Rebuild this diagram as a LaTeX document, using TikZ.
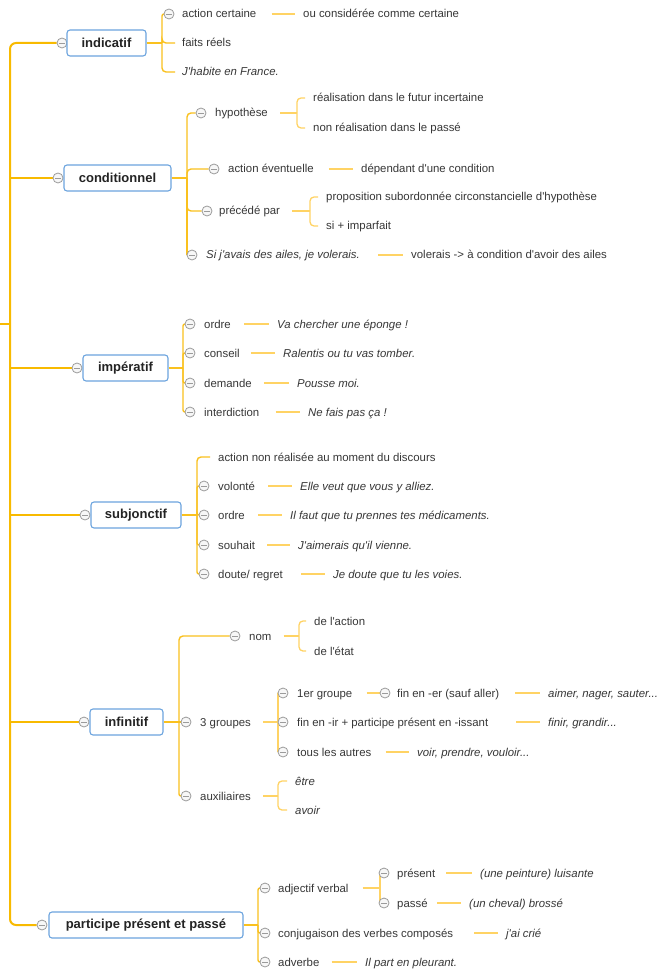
\documentclass[tikz,border=0pt]{standalone}
\usepackage{fontspec}
\newfontfamily\lsans{Liberation Sans}
\usetikzlibrary{calc}
\pgfdeclarelayer{bg}
\pgfsetlayers{bg,main}
\definecolor{spinec}{RGB}{248,186,0}
\definecolor{brc}{RGB}{250,193,30}
\definecolor{lc}{RGB}{255,211,100}
\definecolor{boxc}{RGB}{108,164,222}
\definecolor{txt}{RGB}{55,55,55}
\definecolor{btxt}{RGB}{35,35,35}
\definecolor{cgray}{RGB}{155,155,155}
\tikzset{
  spine/.style={draw=spinec, line width=2pt},
  br/.style={draw=brc, line width=1.4pt, rounded corners=4pt},
  lk/.style={draw=lc, line width=1.3pt, rounded corners=4pt},
  tight/.style={rounded corners=2pt},
  stub/.style={lk, shorten >=8pt, shorten <=#1},
  stub/.default=12pt,
  mainbox/.style={draw=boxc, fill=white, rounded corners=3pt, line width=1.1pt, minimum height=26pt, inner sep=0pt, text=btxt, font=\lsans\fontsize{13pt}{15pt}\selectfont\bfseries},
  tx/.style={anchor=west, inner sep=0pt, text height=11pt, text depth=3pt, text=txt, font=\lsans\fontsize{11.4pt}{13pt}\selectfont},
  txi/.style={tx, font=\lsans\fontsize{11.4pt}{13pt}\selectfont\itshape},
  cc/.style={circle, draw=cgray, fill=gray!6, minimum size=10pt, inner sep=0pt, line width=0.8pt,
    path picture={\draw[cgray, line width=0.8pt] ([xshift=2.2pt]path picture bounding box.west) -- ([xshift=-2.2pt]path picture bounding box.east);}},
}
\begin{document}
\begin{tikzpicture}[x=1pt,y=-1pt]
\useasboundingbox (0,0) rectangle (661,973);

% ---------- main nodes
\node[cc] (indc) at (62,43) {};
\node[mainbox, minimum width=79pt] (ind) at (106.5,43) {indicatif};
\node[cc] (condc) at (58,178) {};
\node[mainbox, minimum width=107pt] (cond) at (117.5,178) {conditionnel};
\node[cc] (impc) at (77,368) {};
\node[mainbox, minimum width=85pt] (imp) at (125.5,368) {impératif};
\node[cc] (subc) at (85,515) {};
\node[mainbox, minimum width=90pt] (sub) at (136,515) {subjonctif};
\node[cc] (infc) at (84,722) {};
\node[mainbox, minimum width=73pt] (inf) at (126.5,722) {infinitif};
\node[cc] (partc) at (42,925) {};
\node[mainbox, minimum width=194pt] (part) at (146,925) {participe présent et passé};

% ---------- indicatif
\node[cc] (cac) at (169,14) {};
\node[tx] (ac) at (182,14) {action certaine};
\node[tx] (acx) at (303,14) {ou considérée comme certaine};
\node[tx] (fr) at (182,43) {faits réels};
\node[txi] (jh) at (182,72) {J'habite en France.};

% ---------- conditionnel
\node[cc] (chyp) at (201,113) {};
\node[tx] (hyp) at (215,113) {hypothèse};
\node[tx] (hypa) at (313,98) {réalisation dans le futur incertaine};
\node[tx] (hypn) at (313,128) {non réalisation dans le passé};
\node[cc] (cae) at (214,169) {};
\node[tx] (ae) at (228,169) {action éventuelle};
\node[tx] (aex) at (361,169) {dépendant d'une condition};
\node[cc] (cpp) at (207,211) {};
\node[tx] (pp) at (219,211) {précédé par};
\node[tx] (ppa) at (326,197) {proposition subordonnée circonstancielle d'hypothèse};
\node[tx] (ppi) at (326,226) {si + imparfait};
\node[cc] (csi) at (192,255) {};
\node[txi] (si) at (206,255) {Si j'avais des ailes, je volerais.};
\node[tx] (six) at (411,255) {volerais -> à condition d'avoir des ailes};

% ---------- imperatif
\node[cc] (ci1) at (190,324) {};
\node[tx] (i1) at (204,324) {ordre};
\node[txi] (i1x) at (277,324) {Va chercher une éponge !};
\node[cc] (ci2) at (190,353) {};
\node[tx] (i2) at (204,353) {conseil};
\node[txi] (i2x) at (283,353) {Ralentis ou tu vas tomber.};
\node[cc] (ci3) at (190,383) {};
\node[tx] (i3) at (204,383) {demande};
\node[txi] (i3x) at (297,383) {Pousse moi.};
\node[cc] (ci4) at (190,412) {};
\node[tx] (i4) at (204,412) {interdiction};
\node[txi] (i4x) at (308,412) {Ne fais pas ça !};

% ---------- subjonctif
\node[tx] (s0) at (218,457) {action non réalisée au moment du discours};
\node[cc] (cs1) at (204,486) {};
\node[tx] (s1) at (218,486) {volonté};
\node[txi] (s1x) at (300,486) {Elle veut que vous y alliez.};
\node[cc] (cs2) at (204,515) {};
\node[tx] (s2) at (218,515) {ordre};
\node[txi] (s2x) at (290,515) {Il faut que tu prennes tes médicaments.};
\node[cc] (cs3) at (204,545) {};
\node[tx] (s3) at (218,545) {souhait};
\node[txi] (s3x) at (298,545) {J'aimerais qu'il vienne.};
\node[cc] (cs4) at (204,574) {};
\node[tx] (s4) at (218,574) {doute/ regret};
\node[txi] (s4x) at (333,574) {Je doute que tu les voies.};

% ---------- infinitif
\node[cc] (cnom) at (235,636) {};
\node[tx] (nom) at (249,636) {nom};
\node[tx] (noma) at (314,621) {de l'action};
\node[tx] (nome) at (314,651) {de l'état};
\node[cc] (cgr) at (186,722) {};
\node[tx] (gr) at (200,722) {3 groupes};
\node[cc] (cg1) at (283,693) {};
\node[tx] (g1) at (297,693) {1er groupe};
\node[cc] (cg1e) at (385,693) {};
\node[tx] (g1e) at (397,693) {fin en -er (sauf aller)};
\node[txi] (g1x) at (548,693) {aimer, nager, sauter...};
\node[cc] (cg2) at (283,722) {};
\node[tx] (g2) at (297,722) {fin en -ir + participe présent en -issant};
\node[txi] (g2x) at (548,722) {finir, grandir...};
\node[cc] (cg3) at (283,752) {};
\node[tx] (g3) at (297,752) {tous les autres};
\node[txi] (g3x) at (417,752) {voir, prendre, vouloir...};
\node[cc] (caux) at (186,796) {};
\node[tx] (aux) at (200,796) {auxiliaires};
\node[txi] (etre) at (295,781) {être};
\node[txi] (avoir) at (295,810) {avoir};

% ---------- participe
\node[cc] (cadj) at (265,888) {};
\node[tx] (adj) at (278,888) {adjectif verbal};
\node[cc] (cpr) at (384,873) {};
\node[tx] (pr) at (397,873) {présent};
\node[txi] (prx) at (480,873) {(une peinture) luisante};
\node[cc] (cpa) at (384,903) {};
\node[tx] (pa) at (397,903) {passé};
\node[txi] (pax) at (469,903) {(un cheval) brossé};
\node[cc] (cconj) at (265,933) {};
\node[tx] (conj) at (278,933) {conjugaison des verbes composés};
\node[txi] (conjx) at (506,933) {j'ai crié};
\node[cc] (cadv) at (265,962) {};
\node[tx] (adv) at (278,962) {adverbe};
\node[txi] (advx) at (365,962) {Il part en pleurant.};

% ---------- bracket coordinates
\coordinate (root) at (0,324);
\coordinate (spj) at (10,324);
\coordinate (indb) at (162,43);
\coordinate (condb) at (187,178);
\coordinate (hypb) at (297,113);
\coordinate (ppb) at (310,211);
\coordinate (impb) at (183,368);
\coordinate (subb) at (197,515);
\coordinate (infb) at (179,722);
\coordinate (nomb) at (299,636);
\coordinate (grb) at (278,722);
\coordinate (auxb) at (278,796);
\coordinate (partb) at (258,925);
\coordinate (adjb) at (380,888);

\begin{pgfonlayer}{bg}
\fill[white] (0,0) rectangle (661,973);
% spine
\draw[spine, rounded corners=6pt] (indc.west) -| (spj) |- (partc.west);
\draw[spine] (root) -- (spj);
\foreach \n in {condc,impc,subc,infc} \draw[spine] (spj |- \n) -- (\n.west);

% indicatif
\draw[br] (ind.east) -- (indb);
\draw[br, tight] (indb) |- (cac.west);
\draw[br] (indb) |- ([xshift=-7pt]fr.west);
\draw[br] (indb) |- ([xshift=-7pt]jh.west);
\draw[stub=15pt] (ac.east) -- (acx.west);

% conditionnel
\draw[br] (cond.east) -- (condb);
\foreach \n in {chyp,cae,cpp} \draw[br] (condb) |- (\n.west);
\draw[br, sharp corners] (condb) |- (csi.west);
\draw[lk, shorten <=12pt] (hyp.east) -- (hypb);
\draw[lk] (hypb) |- ([xshift=-8pt]hypa.west);
\draw[lk] (hypb) |- ([xshift=-8pt]hypn.west);
\draw[stub=15pt] (ae.east) -- (aex.west);
\draw[lk, shorten <=12pt] (pp.east) -- (ppb);
\draw[lk] (ppb) |- ([xshift=-8pt]ppa.west);
\draw[lk] (ppb) |- ([xshift=-8pt]ppi.west);
\draw[stub=18pt] (si.east) -- (six.west);

% imperatif
\draw[br] (imp.east) -- (impb);
\foreach \n in {ci1,ci2,ci3,ci4} \draw[br, tight] (impb) |- (\n.west);
\draw[stub=13pt] (i1.east) -- (i1x.west);
\draw[stub=11pt] (i2.east) -- (i2x.west);
\draw[stub=12pt] (i3.east) -- (i3x.west);
\draw[stub=16pt] (i4.east) -- (i4x.west);

% subjonctif
\draw[br] (sub.east) -- (subb);
\draw[br] (subb) |- ([xshift=-8pt]s0.west);
\foreach \n in {cs1,cs2,cs3,cs4} \draw[br, tight] (subb) |- (\n.west);
\draw[stub=13pt] (s1.east) -- (s1x.west);
\draw[stub=13pt] (s2.east) -- (s2x.west);
\draw[stub=12pt] (s3.east) -- (s3x.west);
\draw[stub=18pt] (s4.east) -- (s4x.west);

% infinitif
\draw[br] (inf.east) -- (infb);
\draw[br] (infb) |- (cnom.west);
\draw[br] (infb) -- (cgr.west);
\draw[br, tight] (infb) |- (caux.west);
\draw[lk, shorten <=12pt] (nom.east) -- (nomb);
\draw[lk] (nomb) |- ([xshift=-8pt]noma.west);
\draw[lk] (nomb) |- ([xshift=-8pt]nome.west);
\draw[lk, shorten <=12pt] (gr.east) -- (grb);
\foreach \n in {cg1,cg2,cg3} \draw[lk, sharp corners] (grb) |- (\n.west);
\draw[lk, shorten <=14pt] (g1.east) -- (cg1e.west);
\draw[stub=16pt] (g1e.east) -- (g1x.west);
\draw[stub=28pt] (g2.east) -- (g2x.west);
\draw[stub=14pt] (g3.east) -- (g3x.west);
\draw[lk, shorten <=12pt] (aux.east) -- (auxb);
\draw[lk] (auxb) |- ([xshift=-8pt]etre.west);
\draw[lk] (auxb) |- ([xshift=-8pt]avoir.west);

% participe
\draw[br] (part.east) -- (partb);
\foreach \n in {cadj,cconj,cadv} \draw[br, tight] (partb) |- (\n.west);
\draw[lk, shorten <=14pt] (adj.east) -- (adjb);
\draw[lk, sharp corners] (adjb) |- (cpr.west);
\draw[lk, sharp corners] (adjb) |- (cpa.west);
\draw[stub=11pt] (pr.east) -- (prx.west);
\draw[stub=9pt] (pa.east) -- (pax.west);
\draw[stub=21pt] (conj.east) -- (conjx.west);
\draw[stub=12pt] (adv.east) -- (advx.west);
\end{pgfonlayer}
\end{tikzpicture}
\end{document}
